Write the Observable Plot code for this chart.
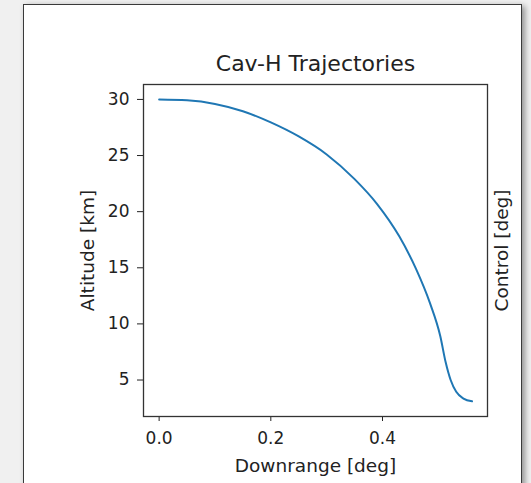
<!DOCTYPE html>
<html>
<head>
<meta charset="utf-8">
<script src="https://cdn.jsdelivr.net/npm/d3@7"></script>
<script src="https://cdn.jsdelivr.net/npm/@observablehq/plot@0.6"></script>
<style>
  html, body { margin: 0; padding: 0; width: 531px; height: 483px; overflow: hidden; background: #f0f0f0; }
  #card { position: absolute; left: 23px; top: 4px; width: 499px; height: 520px; background: #fff;
          border: 1px solid #3a3a3a; box-sizing: border-box; box-shadow: 3px 2px 6px rgba(0,0,0,0.4); }
  #chart { position: absolute; left: 0; top: 0; }
</style>
</head>
<body>
<div id="card"></div>
<div id="chart"></div>
<script>
const downrange = [0, 0.05, 0.1, 0.15, 0.2, 0.25, 0.3, 0.35, 0.39, 0.43, 0.46, 0.485, 0.5035, 0.513, 0.522, 0.532, 0.545, 0.5603];
const altitude  = [30.0, 29.92, 29.6, 28.95, 27.95, 26.7, 25.1, 22.9, 20.7, 17.8, 14.9, 11.85, 8.9, 6.6, 5.0, 3.95, 3.35, 3.1];
const xTicks = [0.0, 0.2, 0.4];
const yTicks = [5, 10, 15, 20, 25, 30];
const title = "Cav-H Trajectories";
const xLabel = "Downrange [deg]";
const yLabel = "Altitude [km]";
const y2Label = "Control [deg]";

const data = downrange.map((d, i) => ({x: d, y: altitude[i]}));

const chart = Plot.plot({
  width: 531,
  height: 483,
  marginLeft: 143,
  marginRight: 44,
  marginTop: 84,
  marginBottom: 67,
  style: {fontFamily: "DejaVu Sans", fontSize: "17px", background: "transparent", color: "#222"},
  x: {domain: [-0.028, 0.588], ticks: xTicks, tickFormat: d3.format(".1f"), tickSize: 5, tickPadding: 10, label: null},
  y: {domain: [1.75, 31.33], ticks: yTicks, tickSize: 6, tickPadding: 8, label: null},
  marks: [
    Plot.frame({stroke: "#333", strokeWidth: 1.3}),
    Plot.line(data, {x: "x", y: "y", stroke: "#1f77b4", strokeWidth: 2, curve: "monotone-x"}),
    Plot.text([title], {frameAnchor: "top", dy: -21, lineAnchor: "middle", fontSize: 22, fill: "#222"}),
    Plot.text([xLabel], {frameAnchor: "bottom", dy: 50, lineAnchor: "middle", fontSize: 18.5, fill: "#222"}),
    Plot.text([yLabel], {frameAnchor: "left", dx: -55, rotate: -90, textAnchor: "middle", lineAnchor: "middle", fontSize: 18.5, fill: "#222"}),
    Plot.text([y2Label], {frameAnchor: "right", dx: 15, rotate: -90, textAnchor: "middle", lineAnchor: "middle", fontSize: 18.5, fill: "#222"})
  ]
});
document.getElementById("chart").appendChild(chart);
</script>
</body>
</html>
